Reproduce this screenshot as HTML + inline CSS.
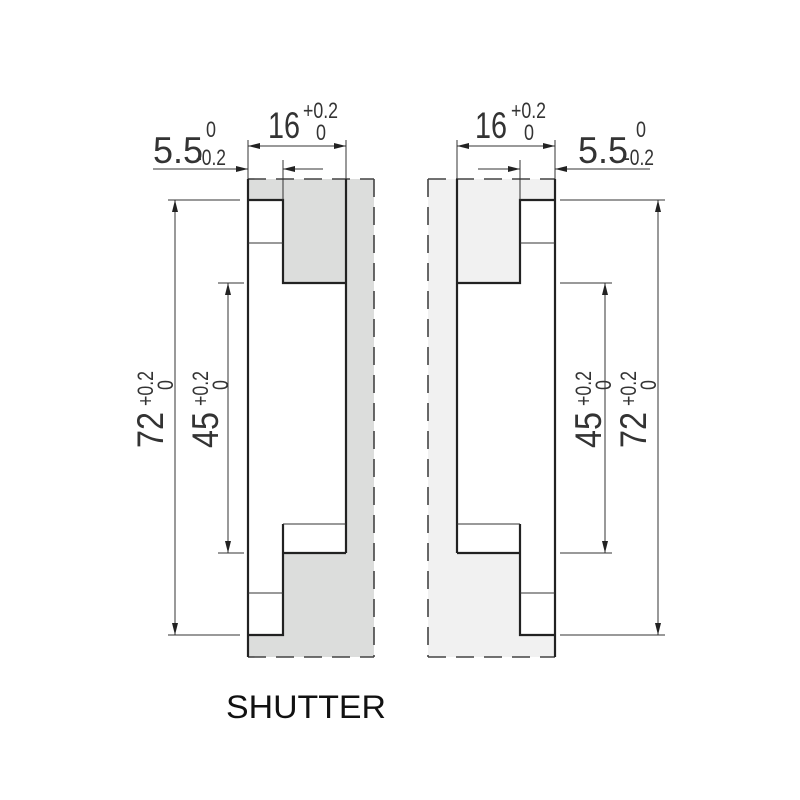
<!DOCTYPE html>
<html><head><meta charset="utf-8"><style>
html,body{margin:0;padding:0;background:#fff;width:800px;height:800px;overflow:hidden}
svg text{font-family:"Liberation Sans",sans-serif;fill:#333}
</style></head><body>
<svg width="800" height="800" viewBox="0 0 800 800" xmlns="http://www.w3.org/2000/svg">
<defs>
<marker id="a" viewBox="0 0 12 6" refX="12" refY="3" markerWidth="12" markerHeight="6" orient="auto" markerUnits="userSpaceOnUse"><path d="M0,0 L12,3 L0,6 z" fill="#222"/></marker>
</defs>
<rect x="248" y="179" width="126" height="478" fill="#dcdddc"/>
<rect x="248" y="200" width="35" height="435" fill="#fff"/>
<rect x="283" y="283" width="63" height="270" fill="#fff"/>
<g stroke="#444" stroke-width="1.6" fill="none" stroke-dasharray="18,10">
<line x1="248" y1="179" x2="374" y2="179"/><line x1="248" y1="657" x2="374" y2="657"/><line x1="374" y1="179" x2="374" y2="657"/>
</g>
<g stroke="#222" stroke-width="2.2" fill="none">
<line x1="248" y1="179" x2="248" y2="657"/>
<line x1="346" y1="179" x2="346" y2="553"/>
<polyline points="248,200 283,200 283,283 346,283"/>
<polyline points="346,553 283,553"/>
<polyline points="283,524 283,635 248,635"/>
</g>
<g stroke="#333" stroke-width="1" fill="none">
<line x1="248" y1="243" x2="283" y2="243"/><line x1="248" y1="593" x2="283" y2="593"/><line x1="283" y1="524" x2="346" y2="524"/>
</g>
<rect x="428" y="179" width="127" height="478" fill="#f1f1f1"/>
<rect x="520" y="200" width="35" height="435" fill="#fff"/>
<rect x="457" y="283" width="63" height="270" fill="#fff"/>
<g stroke="#444" stroke-width="1.6" fill="none" stroke-dasharray="18,10">
<line x1="428" y1="179" x2="555" y2="179"/><line x1="428" y1="657" x2="555" y2="657"/><line x1="428" y1="179" x2="428" y2="657"/>
</g>
<g stroke="#222" stroke-width="2.2" fill="none">
<line x1="555" y1="179" x2="555" y2="657"/>
<line x1="457" y1="179" x2="457" y2="553"/>
<polyline points="555,200 520,200 520,283 457,283"/>
<polyline points="457,553 520,553"/>
<polyline points="520,524 520,635 555,635"/>
</g>
<g stroke="#333" stroke-width="1" fill="none">
<line x1="520" y1="243" x2="555" y2="243"/><line x1="520" y1="593" x2="555" y2="593"/><line x1="457" y1="524" x2="520" y2="524"/>
</g>
<g stroke="#333" stroke-width="1" fill="none">
<line x1="248" y1="140" x2="248" y2="179"/><line x1="346" y1="140" x2="346" y2="179"/><line x1="283" y1="160" x2="283" y2="200"/>
<line x1="268" y1="146" x2="248" y2="146" marker-end="url(#a)"/><line x1="326" y1="146" x2="346" y2="146" marker-end="url(#a)"/><line x1="268" y1="146" x2="326" y2="146"/>
<line x1="153" y1="169" x2="248" y2="169" marker-end="url(#a)"/><line x1="323" y1="169" x2="283" y2="169" marker-end="url(#a)"/>
<line x1="168" y1="200" x2="240" y2="200"/><line x1="168" y1="635" x2="240" y2="635"/>
<line x1="175" y1="420" x2="175" y2="200" marker-end="url(#a)"/><line x1="175" y1="420" x2="175" y2="635" marker-end="url(#a)"/>
<line x1="218" y1="283" x2="244" y2="283"/><line x1="218" y1="553" x2="244" y2="553"/>
<line x1="228" y1="420" x2="228" y2="283" marker-end="url(#a)"/><line x1="228" y1="420" x2="228" y2="553" marker-end="url(#a)"/>
<line x1="457" y1="140" x2="457" y2="179"/><line x1="555" y1="140" x2="555" y2="179"/><line x1="520" y1="160" x2="520" y2="200"/>
<line x1="477" y1="146" x2="457" y2="146" marker-end="url(#a)"/><line x1="535" y1="146" x2="555" y2="146" marker-end="url(#a)"/><line x1="477" y1="146" x2="535" y2="146"/>
<line x1="478" y1="169" x2="520" y2="169" marker-end="url(#a)"/><line x1="650" y1="169" x2="555" y2="169" marker-end="url(#a)"/>
<line x1="560" y1="200" x2="665" y2="200"/><line x1="560" y1="635" x2="665" y2="635"/>
<line x1="658" y1="420" x2="658" y2="200" marker-end="url(#a)"/><line x1="658" y1="420" x2="658" y2="635" marker-end="url(#a)"/>
<line x1="560" y1="283" x2="612" y2="283"/><line x1="560" y1="553" x2="612" y2="553"/>
<line x1="605" y1="420" x2="605" y2="283" marker-end="url(#a)"/><line x1="605" y1="420" x2="605" y2="553" marker-end="url(#a)"/>
</g>
<text x="268" y="138" font-size="37" textLength="32" lengthAdjust="spacingAndGlyphs">16</text><text x="303" y="118" font-size="22" textLength="35" lengthAdjust="spacingAndGlyphs">+0.2</text><text x="316" y="140" font-size="22" textLength="10" lengthAdjust="spacingAndGlyphs">0</text>
<text x="153" y="163" font-size="37" textLength="50" lengthAdjust="spacingAndGlyphs">5.5</text><text x="206" y="137" font-size="22" textLength="10" lengthAdjust="spacingAndGlyphs">0</text><text x="196" y="165" font-size="22" textLength="30" lengthAdjust="spacingAndGlyphs">-0.2</text>
<text x="475" y="138" font-size="37" textLength="32" lengthAdjust="spacingAndGlyphs">16</text><text x="511" y="118" font-size="22" textLength="35" lengthAdjust="spacingAndGlyphs">+0.2</text><text x="524" y="140" font-size="22" textLength="10" lengthAdjust="spacingAndGlyphs">0</text>
<text x="578" y="163" font-size="37" textLength="50" lengthAdjust="spacingAndGlyphs">5.5</text><text x="636" y="137" font-size="22" textLength="10" lengthAdjust="spacingAndGlyphs">0</text><text x="624" y="165" font-size="22" textLength="30" lengthAdjust="spacingAndGlyphs">-0.2</text>
<g transform="translate(163,448) rotate(-90)"><text x="0" y="0" font-size="37" textLength="36" lengthAdjust="spacingAndGlyphs">72</text><text x="42" y="-10" font-size="22" textLength="35" lengthAdjust="spacingAndGlyphs">+0.2</text><text x="58" y="10" font-size="22" textLength="10" lengthAdjust="spacingAndGlyphs">0</text></g>
<g transform="translate(218,448) rotate(-90)"><text x="0" y="0" font-size="37" textLength="36" lengthAdjust="spacingAndGlyphs">45</text><text x="42" y="-10" font-size="22" textLength="35" lengthAdjust="spacingAndGlyphs">+0.2</text><text x="58" y="10" font-size="22" textLength="10" lengthAdjust="spacingAndGlyphs">0</text></g>
<g transform="translate(601,448) rotate(-90)"><text x="0" y="0" font-size="37" textLength="36" lengthAdjust="spacingAndGlyphs">45</text><text x="42" y="-10" font-size="22" textLength="35" lengthAdjust="spacingAndGlyphs">+0.2</text><text x="58" y="10" font-size="22" textLength="10" lengthAdjust="spacingAndGlyphs">0</text></g>
<g transform="translate(646,448) rotate(-90)"><text x="0" y="0" font-size="37" textLength="36" lengthAdjust="spacingAndGlyphs">72</text><text x="42" y="-10" font-size="22" textLength="35" lengthAdjust="spacingAndGlyphs">+0.2</text><text x="58" y="10" font-size="22" textLength="10" lengthAdjust="spacingAndGlyphs">0</text></g>
<text x="226" y="718" font-size="32" textLength="160" lengthAdjust="spacingAndGlyphs" style="fill:#111">SHUTTER</text>
</svg>
</body></html>
